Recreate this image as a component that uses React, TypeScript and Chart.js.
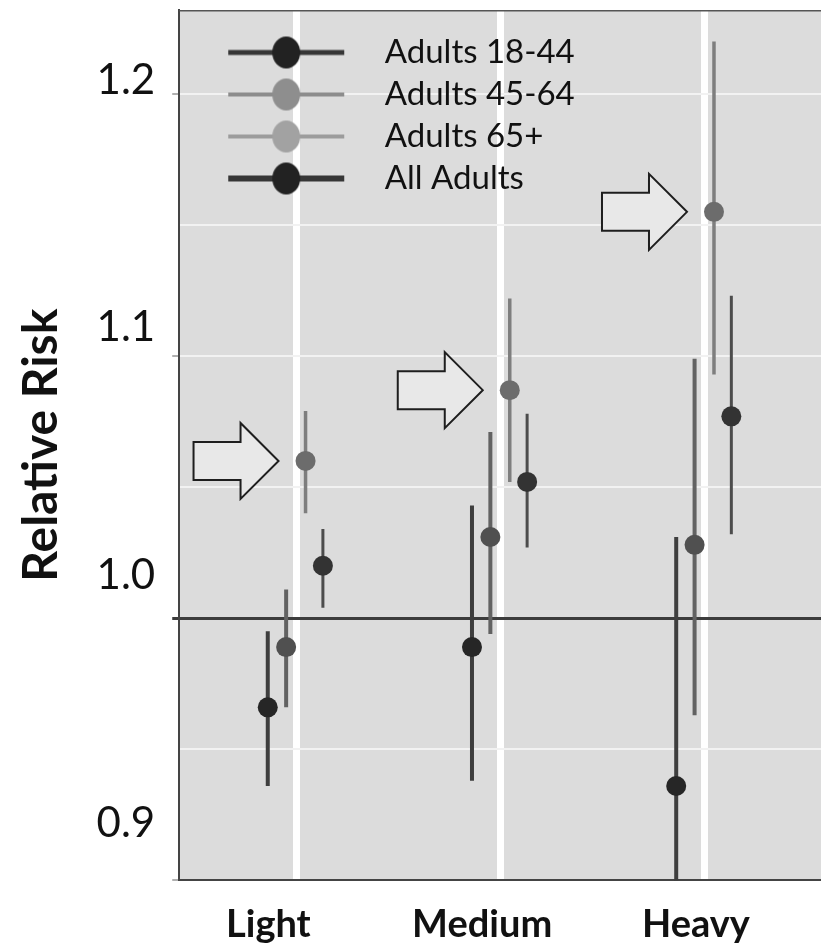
import React, { useEffect, useRef } from 'react';
import { Chart, registerables } from 'chart.js';

Chart.register(...registerables);

// ---- data ----
const categories = ['Light', 'Medium', 'Heavy'];
const seriesNames = ['Adults 18-44', 'Adults 45-64', 'Adults 65+', 'All Adults'];

const rr1844 = [0.966, 0.989, 0.936];
const lo1844 = [0.936, 0.938, 0.88];
const hi1844 = [0.995, 1.043, 1.031];

const rr4564 = [0.989, 1.031, 1.028];
const lo4564 = [0.966, 0.994, 0.963];
const hi4564 = [1.011, 1.071, 1.099];

const rr65 = [1.06, 1.087, 1.155];
const lo65 = [1.04, 1.052, 1.093];
const hi65 = [1.079, 1.122, 1.22];

const rrAll = [1.02, 1.052, 1.077];
const loAll = [1.004, 1.027, 1.032];
const hiAll = [1.034, 1.078, 1.123];

const yTickLabels = [0.9, 1.0, 1.1, 1.2];
const gridValues = [0.9, 0.95, 1.0, 1.05, 1.1, 1.15, 1.2];
const referenceValue = 1.0;

// dodge of each series within a category (category units)
const dodge = [-0.14, -0.05, 0.045, 0.13];

const pointColors = ['#262626', '#505050', '#6c6c6c', '#333333'];
const barColors = ['#3e3e3e', '#626262', '#7e7e7e', '#4c4c4c'];
const barWidths = [4, 4, 3.5, 3];

const near = (a: number, b: number) => Math.abs(a - b) < 1e-6;

function makeLegendSymbol(lineColor: string, lineWidth: number, dotColor: string) {
  const c = document.createElement('canvas');
  c.width = 180;
  c.height = 40;
  const g = c.getContext('2d')!;
  const cx = 98;
  const cy = 20;
  g.strokeStyle = lineColor;
  g.lineWidth = lineWidth;
  g.beginPath();
  g.moveTo(cx - 58, cy);
  g.lineTo(cx + 58, cy);
  g.stroke();
  g.fillStyle = dotColor;
  g.beginPath();
  g.ellipse(cx, cy, 14, 16, 0, 0, Math.PI * 2);
  g.fill();
  return c;
}

const bgPlugin = {
  id: 'plotBg',
  beforeDraw(chart: any) {
    const { ctx, chartArea: a } = chart;
    ctx.save();
    ctx.fillStyle = '#ffffff';
    ctx.fillRect(0, 0, chart.width, chart.height);
    ctx.fillStyle = '#dcdcdc';
    ctx.fillRect(a.left, a.top, a.right - a.left, a.bottom - a.top);
    ctx.restore();
  },
  beforeDatasetsDraw(chart: any) {
    const { ctx, chartArea: a } = chart;
    ctx.save();
    ctx.strokeStyle = '#555555';
    ctx.lineWidth = 1.5;
    ctx.beginPath();
    ctx.moveTo(a.left, a.top + 0.75);
    ctx.lineTo(a.right, a.top + 0.75);
    ctx.stroke();
    ctx.restore();
  },
};

const arrowPlugin = {
  id: 'arrows',
  afterDatasetsDraw(chart: any) {
    const meta = chart.getDatasetMeta(2);
    const ctx = chart.ctx;
    meta.data.forEach((pt: any) => {
      const tipX = pt.x - 27;
      const y = pt.y;
      const baseX = tipX - 38;
      const leftX = tipX - 85;
      ctx.save();
      ctx.beginPath();
      ctx.moveTo(leftX, y - 19);
      ctx.lineTo(baseX, y - 19);
      ctx.lineTo(baseX, y - 38);
      ctx.lineTo(tipX, y);
      ctx.lineTo(baseX, y + 38);
      ctx.lineTo(baseX, y + 19);
      ctx.lineTo(leftX, y + 19);
      ctx.closePath();
      ctx.fillStyle = '#e8e8e8';
      ctx.fill();
      ctx.strokeStyle = '#1e1e1e';
      ctx.lineWidth = 2;
      ctx.lineJoin = 'miter';
      ctx.stroke();
      ctx.restore();
    });
  },
};

export default function App() {
  const ref = useRef<HTMLCanvasElement | null>(null);

  useEffect(() => {
    if (!ref.current) return;
    const rr = [rr1844, rr4564, rr65, rrAll];
    const lo = [lo1844, lo4564, lo65, loAll];
    const hi = [hi1844, hi4564, hi65, hiAll];

    const pointSets: any[] = seriesNames.map((name, s) => ({
      type: 'scatter',
      label: name,
      data: categories.map((_, i) => ({ x: i + 1 + dodge[s], y: rr[s][i] })),
      pointRadius: 10,
      pointBorderWidth: 0,
      backgroundColor: pointColors[s],
      borderColor: pointColors[s],
    }));

    const barSets: any[] = [];
    seriesNames.forEach((name, s) => {
      categories.forEach((_, i) => {
        barSets.push({
          type: 'scatter',
          label: name + ' CI ' + categories[i],
          showLine: true,
          data: [
            { x: i + 1 + dodge[s], y: lo[s][i] },
            { x: i + 1 + dodge[s], y: hi[s][i] },
          ],
          pointRadius: 0,
          borderColor: barColors[s],
          borderWidth: barWidths[s],
        });
      });
    });

    const symbols = [
      makeLegendSymbol('#363636', 5, '#222222'),
      makeLegendSymbol('#8c8c8c', 4, '#8e8e8e'),
      makeLegendSymbol('#9c9c9c', 4, '#a2a2a2'),
      makeLegendSymbol('#363636', 6, '#222222'),
    ];

    const chart = new Chart(ref.current, {
      type: 'scatter',
      data: { datasets: [...pointSets, ...barSets] },
      plugins: [bgPlugin, arrowPlugin],
      options: {
        animation: false,
        responsive: false,
        events: [],
        layout: { autoPadding: false, padding: { left: 8, top: 10, right: 0, bottom: -22 } },
        plugins: {
          tooltip: { enabled: false },
          legend: {
            position: 'chartArea',
            align: 'start',
            title: { display: true, text: ' ', font: { size: 10 }, padding: { top: 15, bottom: 0 } },
            labels: {
              usePointStyle: true,
              pointStyleWidth: 180,
              boxHeight: 33,
              padding: 9,
              color: '#111111',
              font: { family: 'Lato', size: 33 },
              generateLabels: () =>
                seriesNames.map((name, i) => ({
                  text: name,
                  pointStyle: symbols[i],
                  datasetIndex: i,
                  fontColor: '#111111',
                  hidden: false,
                  lineWidth: 0,
                  strokeStyle: 'rgba(0,0,0,0)',
                  fillStyle: 'rgba(0,0,0,0)',
                })) as any,
            },
          },
        },
        scales: {
          x: {
            type: 'linear',
            position: 'bottom',
            weight: 0,
            min: 0.4265,
            max: 3.569,
            afterBuildTicks: (s: any) => {
              s.ticks = categories.map((_, i) => ({ value: i + 1 }));
            },
            ticks: { display: false },
            grid: { z: -1, color: '#ffffff', lineWidth: 7, drawTicks: false },
            border: { display: true, color: '#444444', width: 2 },
          },
          x2: {
            type: 'linear',
            position: 'bottom',
            weight: 1,
            min: 0.583,
            max: 3.585,
            afterBuildTicks: (s: any) => {
              s.ticks = categories.map((_, i) => ({ value: i + 1 }));
            },
            grid: { display: false, drawTicks: false },
            border: { display: false },
            ticks: {
              padding: 22,
              color: '#111111',
              maxRotation: 0,
              autoSkip: false,
              font: { family: 'Lato', size: 38, weight: 'bold' },
              callback: (v: any) => categories[Math.round(Number(v)) - 1],
            },
          },
          y: {
            type: 'linear',
            position: 'left',
            weight: 0,
            min: 0.9,
            max: 1.232,
            afterBuildTicks: (s: any) => {
              s.ticks = gridValues.map((v) => ({ value: v }));
            },
            ticks: { display: false },
            title: { display: true, text: ' ', font: { size: 10 }, padding: 0 },
            grid: {
              z: -1,
              tickLength: 7,
              color: (c: any) => (near(c.tick.value, referenceValue) ? '#3c3c3c' : '#f2f2f2'),
              lineWidth: (c: any) => (near(c.tick.value, referenceValue) ? 3 : 2),
              tickColor: (c: any) =>
                near(c.tick.value, referenceValue)
                  ? '#3c3c3c'
                  : yTickLabels.some((t) => near(t, c.tick.value))
                  ? '#b0b0b0'
                  : 'rgba(0,0,0,0)',
            },
            border: { display: true, color: '#444444', width: 2 },
          },
          y2: {
            type: 'linear',
            position: 'left',
            weight: 1,
            min: 0.877,
            max: 1.2283,
            afterBuildTicks: (s: any) => {
              s.ticks = yTickLabels.map((v) => ({ value: v }));
            },
            grid: { display: false, drawTicks: false },
            border: { display: false },
            ticks: {
              padding: 5,
              color: '#111111',
              font: { family: 'Lato', size: 42, lineHeight: 0.2 },
              callback: (v: any) => Number(v).toFixed(1),
            },
            title: {
              display: true,
              text: 'Relative Risk',
              color: '#111111',
              font: { family: 'Lato', size: 48, weight: 'bold' },
              padding: { top: 5, bottom: 21 },
            },
          },
        },
      } as any,
    });
    return () => chart.destroy();
  }, []);

  return (
    <div style={{ position: 'fixed', left: 0, top: 0, width: 821, height: 948, background: '#ffffff' }}>
      <canvas ref={ref} width={821} height={948} style={{ display: 'block' }} />
    </div>
  );
}
